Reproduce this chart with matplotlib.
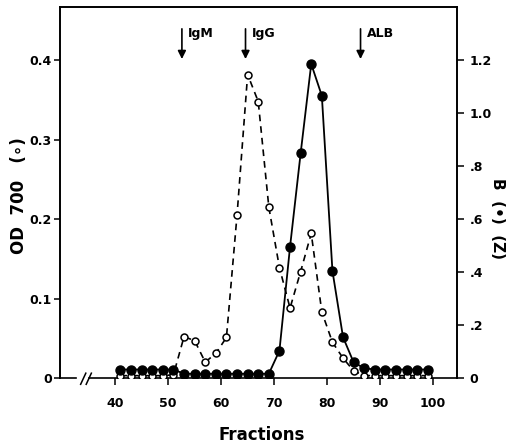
import matplotlib
matplotlib.use("Agg")
import matplotlib.pyplot as plt
import numpy as np

fractions = list(range(41, 100, 2))
od700 = [0.003, 0.003, 0.003, 0.003, 0.003, 0.004, 0.052, 0.047, 0.020, 0.031,
         0.051, 0.205, 0.382, 0.348, 0.215, 0.139, 0.088, 0.134, 0.182, 0.083,
         0.045, 0.025, 0.009, 0.003, 0.003, 0.003, 0.003, 0.003, 0.003, 0.003]
b_values = [0.032, 0.032, 0.032, 0.032, 0.032, 0.032, 0.016, 0.016, 0.016, 0.016,
            0.016, 0.016, 0.016, 0.016, 0.016, 0.103, 0.495, 0.848, 1.185, 1.065,
            0.404, 0.154, 0.059, 0.037, 0.032, 0.032, 0.032, 0.032, 0.032, 0.032]
markers_pos = [52.6, 64.6, 86.3]
markers_lbl = ["IgM", "IgG", "ALB"]
left_ticks = [0, 0.1, 0.2, 0.3, 0.4]
left_labels = ["0", "0.1", "0.2", "0.3", "0.4"]
right_ticks = [0, 0.2, 0.4, 0.6, 0.8, 1.0, 1.2]
right_labels = ["0", ".2", ".4", ".6", ".8", "1.0", "1.2"]
x_ticks = [40, 50, 60, 70, 80, 90, 100]

plt.rcParams['font.family'] = ['DejaVu Sans']
plt.rcParams['font.weight'] = 'bold'

fig = plt.figure(figsize=(5.10, 4.48), dpi=100)
ax = fig.add_axes([60/510, 1-378/448, 397/510, 371/448])
ax2 = ax.twinx()

ax.set_xlim(29.6, 104.5)
ax.set_ylim(0, 0.467)
ax2.set_ylim(0, 1.40)

ax.plot(fractions, od700, linestyle=(0, (4, 3)), color='black', lw=1.2,
        marker='o', markersize=5, markerfacecolor='white', markeredgecolor='black',
        markeredgewidth=1.1, zorder=3)
ax2.plot(fractions, b_values, linestyle='-', color='black', lw=1.3,
         marker='o', markersize=6.5, markerfacecolor='black', markeredgecolor='black', zorder=2)

ax.set_yticks(left_ticks)
ax.set_yticklabels(left_labels)
ax2.set_yticks(right_ticks)
ax2.set_yticklabels(right_labels)
ax.set_xticks(x_ticks)

for a in (ax, ax2):
    a.tick_params(direction='out', length=5, width=1.1, labelsize=9, pad=4)
    for s in a.spines.values():
        s.set_linewidth(1.2)
ax.tick_params(axis='x', pad=9)
ax.tick_params(axis='y', length=4, pad=2)
ax2.tick_params(axis='y', length=5, pad=4)

# broken bottom spine
ax.spines['bottom'].set_visible(False)
ax2.spines['bottom'].set_visible(False)
tr = ax.transAxes
ax.plot([0, 0.040], [0, 0], transform=tr, color='black', lw=1.2, clip_on=False)
ax.plot([0.072, 1], [0, 0], transform=tr, color='black', lw=1.2, clip_on=False)
for dx in (0.0, 0.014):
    ax.plot([0.052 + dx, 0.065 + dx], [-0.017, 0.013], transform=tr, color='black', lw=1.1, clip_on=False)

fig.text(19/510, 1-196/448, "OD  700   (∘)", fontsize=12, rotation=90, ha='center', va='center')
fig.text(498/510, 1-218/448, "B  (•)  (Z)", fontsize=11, rotation=-90, ha='center', va='center')
fig.text(262/510, 1-435/448, "Fractions", fontsize=12, ha='center', va='center')

# arrows
for xp, lbl in zip(markers_pos, markers_lbl):
    ax.annotate("", xy=(xp, 0.398), xytext=(xp, 0.443),
                arrowprops=dict(arrowstyle='-|>', color='black', lw=1.2, mutation_scale=12))
    ax.text(xp + 1.2, 0.434, lbl, fontsize=9, va='center', ha='left')

fig.savefig("out.png", dpi=100)
